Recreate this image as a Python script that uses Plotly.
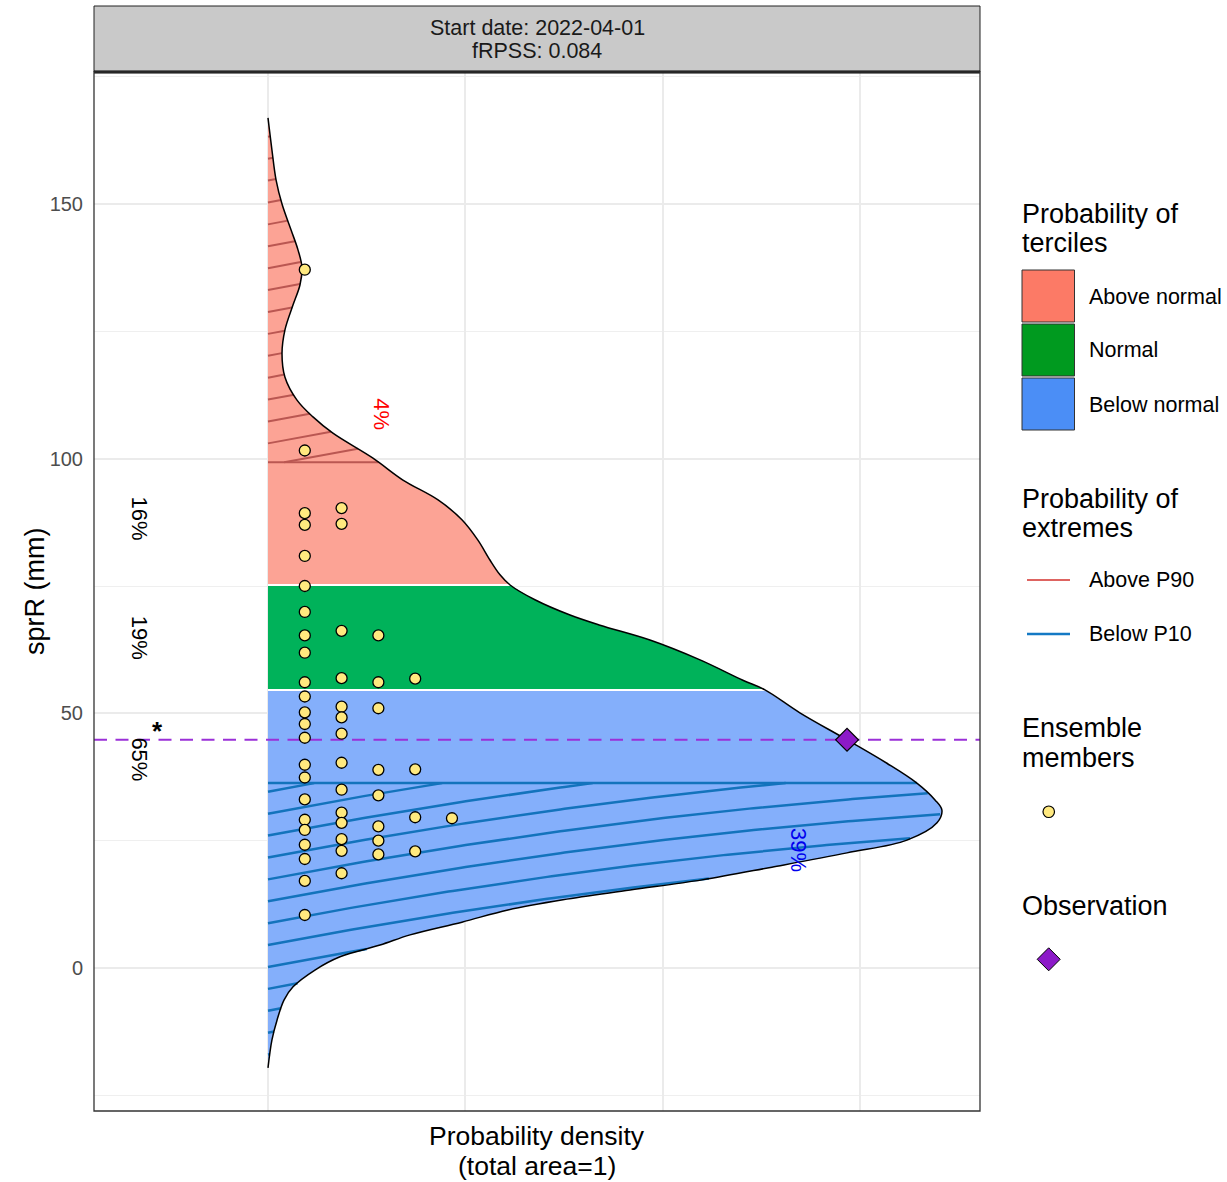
import numpy as np
import plotly.graph_objects as go

# ---------------- data ----------------
start_date = "2022-04-01"
frpss = "0.084"
y_title = "sprR (mm)"
x_title = ["Probability density", "(total area=1)"]

# forecast probability density function: value (mm) and density
pdf_value = [166.9, 160.6, 154.7, 150.0, 144.9, 141.0, 137.6, 134.1, 130.2, 125.3,
             120.7, 116.0, 111.5, 108.2, 105.0, 100.1, 95.8, 91.9, 88.0, 84.0,
             80.1, 77.2, 75.2, 72.3, 69.3, 67.3, 64.4, 60.5, 56.5, 54.6,
             50.1, 44.8, 40.2, 36.3, 33.0, 31.0, 28.5, 25.1, 22.6, 19.8,
             17.3, 15.3, 13.4, 11.4, 9.0, 6.5, 4.5, 2.2, -0.4, -3.7,
             -6.3, -10.2, -14.1, -19.6]
pdf_density = [0.0, 0.00020, 0.00041, 0.00071, 0.00117, 0.00152, 0.00172, 0.00162, 0.00127, 0.00086,
               0.00071, 0.00086, 0.00147, 0.00228, 0.00329, 0.00532, 0.00684, 0.00862, 0.00983, 0.01064,
               0.01125, 0.01176, 0.01227, 0.01353, 0.01531, 0.01683, 0.01936, 0.02190, 0.02407, 0.02519,
               0.02696, 0.02935, 0.03137, 0.03289, 0.03381, 0.03416, 0.03391, 0.03239, 0.02935, 0.02554,
               0.02200, 0.01835, 0.01495, 0.01216, 0.00983, 0.00720, 0.00568, 0.00365, 0.00238, 0.00127,
               0.00081, 0.00046, 0.00020, 0.0]

tercile_names = ["Below normal", "Normal", "Above normal"]
tercile_limits = [54.6, 75.2]
tercile_probs = [65, 19, 16]
significant = [True, False, False]

extreme_names = ["Below P10", "Above P90"]
extreme_limits = [36.3, 99.3]
extreme_probs = [39, 4]

observation = 44.8

member_values = [137.1, 101.6, 89.3, 87.0, 80.9, 75.0, 69.9, 65.3, 61.9, 56.1,
                 53.3, 50.2, 47.9, 45.2, 39.9, 37.4, 33.1, 29.1, 27.1, 24.2,
                 21.4, 17.1, 10.4,
                 90.3, 87.2, 66.2, 56.9, 51.3, 49.2, 46.0, 40.3, 35.0, 30.5,
                 28.5, 25.3, 23.0, 18.6,
                 65.3, 56.1, 51.0, 38.9, 33.9, 27.8, 25.0, 22.3,
                 56.8, 39.0, 29.6, 22.9,
                 29.4]
member_stack = [1] * 23 + [2] * 14 + [3] * 8 + [4] * 4 + [5] * 1

# ---------------- styling / layout ----------------
W, H = 1227, 1182
PX_L, PX_R, PX_T, PX_B = 94, 980, 72, 1111   # panel edges in pixels
x_range = [-0.00882, 0.03609]
y_range = [-28.08, 175.92]
FONT = "Liberation Sans, Arial, Helvetica, sans-serif"

fill_plot = ["#84AFFB", "#00B25A", "#FCA395"]
fill_key = ["#4B8EF6", "#009A1F", "#FC7A66"]
hatch_col = ["#1373BC", "#BA5752"]
hatch_key_col = ["#1479C4", "#DE6461"]
member_fill = "#FFE97F"
obs_line_col = "#9B30D8"
obs_fill = "#8C1AC8"
lab_col = ["#0000EE", "#FF0000"]

member_dx = 0.001865
hatch_spacing = 4.3
hatch_b0 = [0.2, 103.0]
hatch_A, hatch_B = 742.2, 7085.0


def xp(px):
    return (px - PX_L) / (PX_R - PX_L)


def yp(py):
    return (PX_B - py) / (PX_B - PX_T)


vy = np.array(pdf_value)[::-1]
vd = np.array(pdf_density)[::-1]
dmax = vd.max()


def dens_at(y):
    return np.interp(y, vy, vd, left=0.0, right=0.0)


def curve_part(lo, hi):
    m = (vy > lo) & (vy < hi)
    ys = np.r_[lo, vy[m], hi]
    xs = np.r_[dens_at(lo), vd[m], dens_at(hi)]
    return xs, ys


def hatch(ylo, yhi, b0):
    d = np.linspace(0, dmax * 1.02, 4000)
    xs, ys = [], []
    for k in range(-80, 80):
        b = b0 + k * hatch_spacing
        y = b + hatch_A * d - hatch_B * d ** 2
        inside = (y >= ylo) & (y <= yhi) & (d <= dens_at(y))
        if not inside.any():
            continue
        idx = np.where(inside)[0]
        br = np.where(np.diff(idx) > 1)[0]
        starts = np.r_[idx[0], idx[br + 1]]
        ends = np.r_[idx[br], idx[-1]]
        for s, e in zip(starts, ends):
            sel = list(range(s, e + 1, 25))
            if sel[-1] != e:
                sel.append(e)
            xs += list(d[sel]) + [None]
            ys += list(y[sel]) + [None]
    return xs, ys


fig = go.Figure()

# tercile areas (filled to density 0)
bounds = [vy.min()] + tercile_limits + [vy.max()]
for i in range(3):
    cx_, cy_ = curve_part(bounds[i], bounds[i + 1])
    fig.add_trace(go.Scatter(x=cx_, y=cy_, mode="lines", fill="tozerox",
                             fillcolor=fill_plot[i], line=dict(width=0, shape="spline"),
                             hoverinfo="skip", showlegend=False))

# hatched extremes
hx, hy = hatch(vy.min(), extreme_limits[0], hatch_b0[0])
hx += [0, dens_at(extreme_limits[0]), None]
hy += [extreme_limits[0], extreme_limits[0], None]
fig.add_trace(go.Scatter(x=hx, y=hy, mode="lines", line=dict(color=hatch_col[0], width=2.5),
                         hoverinfo="skip", showlegend=False))
hx, hy = hatch(extreme_limits[1], vy.max(), hatch_b0[1])
hx += [0, dens_at(extreme_limits[1]), None]
hy += [extreme_limits[1], extreme_limits[1], None]
fig.add_trace(go.Scatter(x=hx, y=hy, mode="lines", line=dict(color=hatch_col[1], width=2),
                         hoverinfo="skip", showlegend=False))

# tercile boundary lines
bx, by = [], []
for t in tercile_limits:
    bx += [0, dens_at(t), None]
    by += [t, t, None]
fig.add_trace(go.Scatter(x=bx, y=by, mode="lines", line=dict(color="white", width=2),
                         hoverinfo="skip", showlegend=False))

# pdf outline
fig.add_trace(go.Scatter(x=pdf_density, y=pdf_value, mode="lines",
                         line=dict(color="black", width=1.5, shape="spline"), showlegend=False))

# observation line
fig.add_trace(go.Scatter(x=x_range, y=[observation, observation], mode="lines",
                         line=dict(color=obs_line_col, width=2, dash="13px,8.5px"),
                         hoverinfo="skip", showlegend=False))

# ensemble members
fig.add_trace(go.Scatter(x=np.array(member_stack) * member_dx, y=member_values, mode="markers",
                         marker=dict(size=11, color=member_fill, line=dict(color="black", width=1.3)),
                         showlegend=False))

# observation marker
fig.add_trace(go.Scatter(x=[dens_at(observation)], y=[observation], mode="markers",
                         marker=dict(symbol="diamond", size=17.5, color=obs_fill,
                                     line=dict(color="black", width=1.2)),
                         showlegend=False))

ann = []


def text(t, x, y, size, color="black", ref="paper", angle=0, xanchor="center",
         yanchor="middle", pad=1):
    ann.append(dict(x=x, y=y, xref="paper" if ref == "paper" else "x",
                    yref="paper" if ref == "paper" else "y", text=t, textangle=angle,
                    xanchor=xanchor, yanchor=yanchor, showarrow=False, borderpad=pad,
                    font=dict(size=size, color=color, family=FONT)))


# tercile probability labels
w = tercile_limits[1] - tercile_limits[0]
lab_y = [tercile_limits[0] - 0.66 * w, (tercile_limits[0] + tercile_limits[1]) / 2,
         tercile_limits[1] + 0.635 * w]
for i in range(3):
    text(f"{tercile_probs[i]}%", -0.0065, lab_y[i], 22, ref="data", angle=90)
    if significant[i]:
        text("<b>*</b>", -0.00558, lab_y[i] + 5.6, 26, ref="data")
# extreme probability labels
ext_pos = [(0.02686, 23.2), (0.00576, 108.8)]
for i in range(2):
    text(f"{extreme_probs[i]}%", ext_pos[i][0], ext_pos[i][1], 22, color=lab_col[i],
         ref="data", angle=90)

# strip text
text(f"Start date: {start_date}", 0.5, yp(28), 21.5, color="#1a1a1a")
text(f"fRPSS: {frpss}", 0.5, yp(51), 21.5, color="#1a1a1a")
# axis titles
text(y_title, xp(35), yp(592), 27, angle=-90)
text(x_title[0], 0.5, yp(1136), 26.5, pad=0)
text(x_title[1], 0.5, yp(1165.5), 26.5, pad=0)


def legtext(t, px, py, size):
    text(t, xp(px), yp(py), size, xanchor="left")


shapes = []
# strip
shapes.append(dict(type="rect", xref="paper", yref="paper", x0=0, x1=1, y0=1, y1=yp(6),
                   fillcolor="#C9C9C9", line=dict(color="#222", width=1), layer="above"))
shapes.append(dict(type="line", xref="paper", yref="paper", x0=0, x1=1, y0=1, y1=1,
                   line=dict(color="black", width=3), layer="above"))
shapes.append(dict(type="rect", xref="paper", yref="paper", x0=0, x1=1, y0=0, y1=1,
                   line=dict(color="#333", width=1.3), layer="above"))

# legend: terciles
legtext("Probability of", 1020, 214, 27)
legtext("terciles", 1020, 243, 27)
key_top = [378, 324, 270]
for i in range(3):
    shapes.append(dict(type="rect", xref="paper", yref="paper", x0=xp(1022), x1=xp(1074.5),
                       y0=yp(key_top[i] + 52), y1=yp(key_top[i]), fillcolor=fill_key[i],
                       line=dict(color="#333", width=1)))
    legtext(tercile_names[i], 1087, key_top[i] + 26.5, 21.5)
# legend: extremes
legtext("Probability of", 1020, 499, 27)
legtext("extremes", 1020, 528, 27)
ext_key_y = [634, 580]
ext_w = [2.5, 1.8]
for i in range(2):
    shapes.append(dict(type="line", xref="paper", yref="paper", x0=xp(1027), x1=xp(1070),
                       y0=yp(ext_key_y[i]), y1=yp(ext_key_y[i]),
                       line=dict(color=hatch_key_col[i], width=ext_w[i])))
    legtext(extreme_names[i], 1087, ext_key_y[i], 21.5)
# legend: members
legtext("Ensemble", 1020, 728, 27)
legtext("members", 1020, 758, 27)
shapes.append(dict(type="circle", xref="paper", yref="paper", x0=xp(1043), x1=xp(1054.5),
                   y0=yp(817.5), y1=yp(806), fillcolor=member_fill, line=dict(color="black", width=1.2)))
# legend: observation
legtext("Observation", 1020, 906, 27)
cx, cy, r = 1048.7, 959.3, 11.5
path = (f"M {xp(cx - r)},{yp(cy)} L {xp(cx)},{yp(cy - r)} L {xp(cx + r)},{yp(cy)} "
        f"L {xp(cx)},{yp(cy + r)} Z")
shapes.append(dict(type="path", xref="paper", yref="paper", path=path, fillcolor=obs_fill,
                   line=dict(color="black", width=1)))

fig.update_layout(
    width=W, height=H, autosize=False,
    margin=dict(l=PX_L, r=W - PX_R, t=PX_T, b=H - PX_B, pad=0),
    paper_bgcolor="white", plot_bgcolor="white",
    showlegend=False, annotations=ann, shapes=shapes,
    font=dict(family=FONT),
    xaxis=dict(range=x_range, tick0=0, dtick=0.01, showticklabels=False, ticks="",
               showgrid=True, gridcolor="#EBEBEB", gridwidth=1.8, zeroline=False, showline=False,
               fixedrange=True),
    yaxis=dict(range=y_range, tickmode="array", tickvals=[0, 50, 100, 150], ticks="",
               tickfont=dict(size=20, color="#4D4D4D", family=FONT), ticklabelstandoff=10,
               showgrid=True, gridcolor="#EBEBEB", gridwidth=1.8, zeroline=False, showline=False,
               minor=dict(tickmode="array", tickvals=[-25, 25, 75, 125, 175], showgrid=True,
                          gridcolor="#EFEFEF", gridwidth=1.2, ticks=""),
               fixedrange=True),
)

fig.write_html("out.html", config={"displayModeBar": False},
               post_script="document.body.style.margin='0px';document.body.style.overflow='hidden';")
